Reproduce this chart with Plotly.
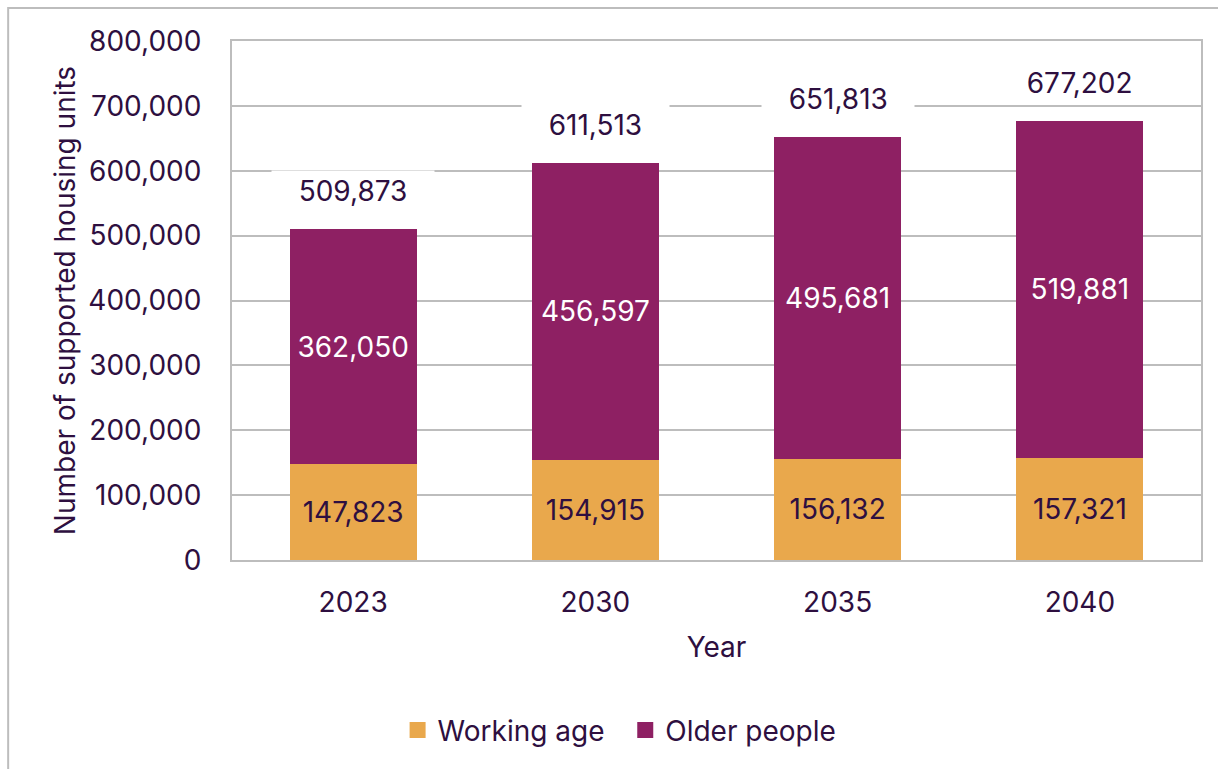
import plotly.graph_objects as go

years = ["2023", "2030", "2035", "2040"]
working_age = [147823, 154915, 156132, 157321]
older_people = [362050, 456597, 495681, 519881]
totals = [509873, 611513, 651813, 677202]
y_ticks = [0, 100000, 200000, 300000, 400000, 500000, 600000, 700000, 800000]

ORANGE = "#E9A84C"
PURPLE = "#8E2063"
INK = "#2E0F40"
GRID = "#BDBDBD"
FONT = "Inter, Arial, sans-serif"
FS = 28

fig = go.Figure()
fig.add_trace(go.Bar(
    x=years, y=working_age, name="Working age", marker_color=ORANGE,
    marker_line_width=0, showlegend=False,
    text=[f"{v:,}" for v in working_age], textposition="inside",
    insidetextanchor="middle", textfont=dict(color=INK, size=FS, family=FONT),
))
fig.add_trace(go.Bar(
    x=years, y=older_people, name="Older people", marker_color=PURPLE,
    marker_line_width=0, showlegend=False,
    text=[f"{v:,}" for v in older_people], textposition="inside",
    insidetextanchor="middle", textfont=dict(color="white", size=FS, family=FONT),
))

# Legend entries with larger square swatches
legend_items = [("Working age", ORANGE, "\u00a0\u00a0"), ("Older people", PURPLE, "")]
for name, col, pad in legend_items:
    fig.add_trace(go.Scatter(
        x=[None], y=[None], mode="markers", name=name + pad,
        marker=dict(symbol="square", size=19, color=col),
    ))

# Total above each stack, on a white box that breaks the gridlines
# (category index used for x so numeric-looking labels are not taken as positions)
for i, tot in enumerate(totals):
    fig.add_annotation(
        x=i, y=tot, text="\u00a0\u00a0\u00a0" + f"{tot:,}" + "\u00a0\u00a0\u00a0",
        showarrow=False, yanchor="middle", yshift=38,
        bgcolor="white", borderpad=3,
        font=dict(color=INK, size=FS, family=FONT),
    )

# Light frame around the chart area
fig.add_shape(type="rect", xref="paper", yref="paper",
              x0=-0.231, x1=1.2, y0=-0.5, y1=1.0636,
              line=dict(color=GRID, width=2), layer="below")

fig.update_layout(
    barmode="stack", bargap=0.475,
    width=1218, height=769,
    margin=dict(l=232, r=17, t=41, b=209),
    paper_bgcolor="white", plot_bgcolor="white",
    font=dict(family=FONT, color=INK, size=FS),
    showlegend=True,
    legend=dict(orientation="h", x=0.40, xanchor="center", y=-0.328, yanchor="middle",
                font=dict(size=FS, color=INK), traceorder="normal",
                itemwidth=30),
    xaxis=dict(
        type="category", range=[-0.5, len(years) - 0.5],
        title=dict(text="Year", font=dict(size=FS, color=INK), standoff=20),
        tickfont=dict(size=FS, color=INK), ticks="", ticklabelstandoff=16,
        showline=True, linecolor=GRID, linewidth=2, mirror=True,
    ),
    yaxis=dict(
        title=dict(text="Number of supported housing units", font=dict(size=FS, color=INK), standoff=5),
        range=[0, 800000], tickvals=y_ticks, tickformat=",", ticks="",
        tickfont=dict(size=FS, color=INK), ticklabelstandoff=23,
        showgrid=True, gridcolor=GRID, gridwidth=2,
        showline=True, linecolor=GRID, linewidth=2, mirror=True, zeroline=False,
    ),
)

fig.write_html("out.html")
